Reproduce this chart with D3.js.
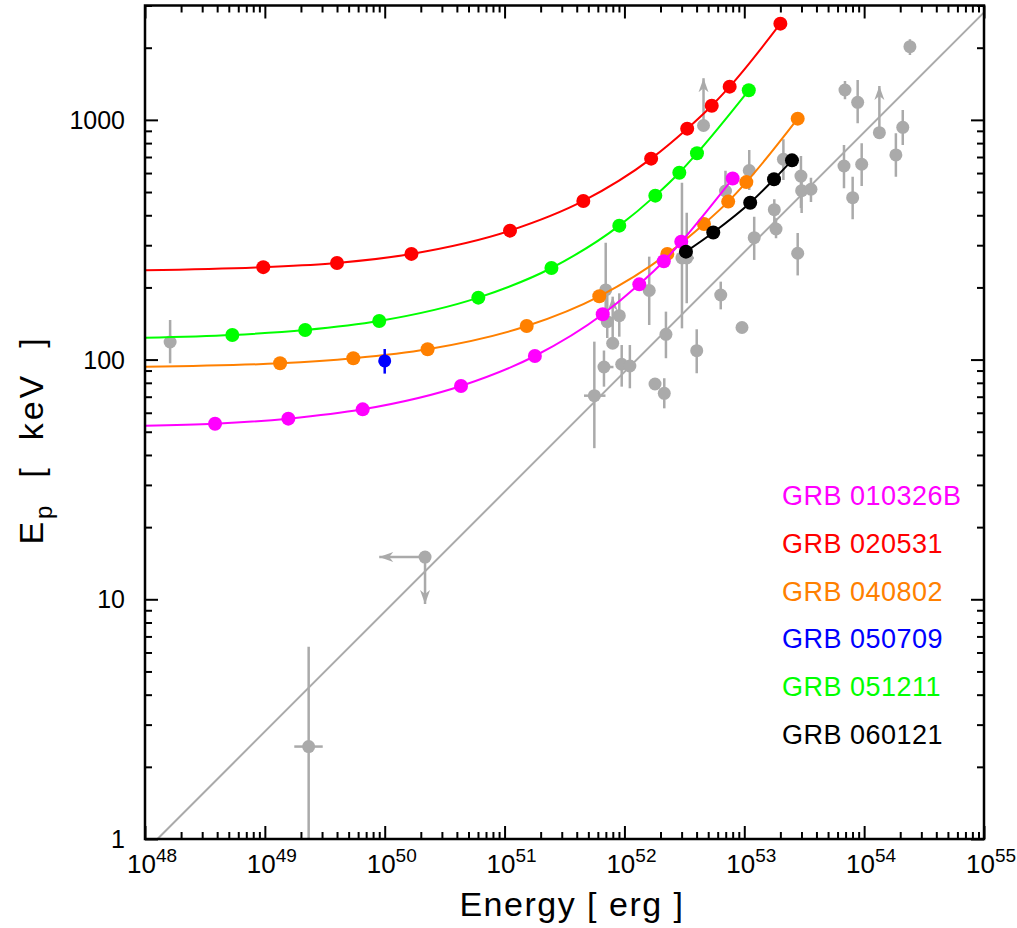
<!DOCTYPE html>
<html>
<head>
<meta charset="utf-8">
<script src="https://cdn.jsdelivr.net/npm/d3@7"></script>
<style>
  body { margin: 0; background: #fff; }
  text { font-family: "Liberation Sans", Arial, sans-serif; }
</style>
</head>
<body>
<svg id="chart" width="1017" height="928"></svg>
<script>
// ---- data ----
const grbNames = ["GRB 010326B", "GRB 020531", "GRB 040802", "GRB 050709", "GRB 051211", "GRB 060121"];
const grbColors = ["#ff00ff", "#ff0000", "#ff8000", "#0000ff", "#00ff00", "#000000"];

// time-resolved tracks (energy in erg, Ep in keV)
const e010326B = [3.84e48, 1.57e49, 6.55e49, 4.33e50, 1.79e51, 6.59e51, 1.33e52, 2.13e52, 2.98e52, 8.0e52];
const ep010326B = [54.0, 56.7, 62.0, 77.6, 103.5, 154.5, 206, 257, 310, 569];
const e020531 = [9.7e48, 4.0e49, 1.67e50, 1.11e51, 4.54e51, 1.67e52, 3.34e52, 5.35e52, 7.55e52, 2.0e53];
const ep020531 = [243, 253, 276, 345, 459, 689, 919, 1146, 1376, 2520];
const e040802 = [1.34e49, 5.47e49, 2.28e50, 1.53e51, 6.17e51, 2.28e52, 4.61e52, 7.34e52, 1.04e53, 2.79e53];
const ep040802 = [96.5, 101.3, 110.4, 138, 183.7, 276, 368, 456, 550, 1012];
const e051211 = [5.35e48, 2.17e49, 9.0e49, 6.04e50, 2.46e51, 9.06e51, 1.81e52, 2.87e52, 4.03e52, 1.09e53];
const ep051211 = [126.7, 132.9, 144.9, 181.3, 241, 362, 483, 602, 726, 1329];
const e060121 = [3.26e52, 5.51e52, 1.12e53, 1.77e53, 2.50e53];
const ep060121 = [282, 339, 451, 565, 678];
// value of each fitted curve at the left edge (1e48 erg), null = curve starts at first point
const fitStartEp = [53.0, 236, 93.4, null, 123.4, null];

// single point, GRB 050709
const e050709 = [1.0e50];
const ep050709 = [98.7];
const ep050709Lo = [87.4];
const ep050709Hi = [110.7];

// comparison sample (grey)
const grayE = [1.62e48, 2.32e49, 5.61e51, 6.75e51, 6.98e51, 7.19e51, 9.06e51, 9.49e51, 1.11e52, 1.61e52,
  1.80e52, 2.15e52, 2.22e52, 3.02e52, 3.31e52, 4.01e52, 6.36e52, 6.97e52, 9.57e52, 1.10e53,
  1.21e53, 1.78e53, 1.84e53, 2.12e53, 2.79e53, 2.97e53, 3.01e53, 3.60e53, 6.92e53, 8.83e53,
  2.10e54, 1.84e54, 6.79e53, 9.54e53, 8.02e53, 2.41e54];
const grayEp = [118.4, 2.43, 70.7, 93.1, 195.2, 143.9, 152.5, 95.6, 94.0, 194.2,
  79.1, 72.3, 127.5, 265.4, 265.4, 108.9, 186, 505, 136.1, 615,
  322.6, 422, 350.6, 685, 277.7, 583, 506.5, 513.4, 1332, 1184,
  931, 714, 642, 652.8, 473.6, 2020];
const grayEpLo = [96.5, 0.5, 42.7, 77.1, 139.4, 123, 124.6, 77.1, 75.9, 139.4,
  null, 62.6, 101.3, 135, 171.8, 87.7, 162, 441.6, null, 510,
  260.4, 364.4, 320.7, 561, 224.4, 429, 409, 454.6, 1219, 968,
  785.6, 579.5, 518.4, 530, 384.8, 1865];
const grayEpHi = [146.3, 6.34, 118.8, 109.1, 307, 184.2, 189, 115, 115, 268.8,
  null, 83.6, 158.5, 547, 410, 133.8, 211.4, 614, null, 749,
  394.6, 466.5, 388.6, 830, 337.5, 707, 606, 574, 1453, 1467,
  1100, 879.5, 786, 798.7, 579.5, 2169];
const grayELo = [null, 1.76e49, 4.60e51, 6.05e51, null, null, null, null, null, null,
  null, null, null, null, 2.85e52, null, null, null, null, null,
  null, null, null, null, null, null, null, null, null, null,
  null, null, null, null, null, null];
const grayEHi = [null, 3.04e49, 6.95e51, 8.1e51, null, null, null, null, null, null,
  null, null, null, null, 3.80e52, null, null, null, null, null,
  null, null, null, null, null, null, null, null, null, null,
  null, null, null, null, null, null];

// lower limits on Ep (arrow up)
const lowLimE = [7.98e51, 4.57e52, 1.34e54];
const lowLimEp = [117, 947.6, 884.6];
const lowLimTip = [183, 1491, 1385];
// upper limit in both E and Ep
const upLimE = [2.17e50];
const upLimEp = [15];
const upLimETip = [9.0e49];
const upLimEpTip = [9.56];

// reference relation Ep ~ E^0.5 (grey line endpoints)
const relationE = [1.27e48, 1e55];
const relationEp = [1, 2808];

const xTickExp = [48, 49, 50, 51, 52, 53, 54, 55];
const yTickLabels = ["1", "10", "100", "1000"];

// ---- drawing ----
const svg = d3.select('#chart');
const x = d3.scaleLog().domain([1e48, 1e55]).range([145, 984]);
const y = d3.scaleLog().domain([1, 3000]).range([839, 5.5]);
const gray = '#aaaaaa';

svg.append('defs').append('clipPath').attr('id', 'plot-clip')
  .append('rect')
  .attr('x', x.range()[0]).attr('y', y.range()[1])
  .attr('width', x.range()[1] - x.range()[0])
  .attr('height', y.range()[0] - y.range()[1]);

let plot = svg.append('g').attr('clip-path', 'url(#plot-clip)');

function arrow(g, x0, y0, x1, y1, color) {
  g.append('line')
    .attr('x1', x0).attr('y1', y0).attr('x2', x1).attr('y2', y1)
    .attr('stroke', color).attr('stroke-width', 2.5);
  let len = Math.hypot(x1 - x0, y1 - y0);
  let ux = (x1 - x0) / len, uy = (y1 - y0) / len;
  let nx = -uy, ny = ux;
  let bx = x1 - ux * 14, by = y1 - uy * 14;
  let mx = x1 - ux * 10, my = y1 - uy * 10;
  g.append('path')
    .attr('d', `M${x1},${y1}L${bx + nx * 5},${by + ny * 5}L${mx},${my}L${bx - nx * 5},${by - ny * 5}Z`)
    .attr('fill', color);
}

// grey relation line
plot.append('line')
  .attr('x1', x(relationE[0])).attr('y1', y(relationEp[0]))
  .attr('x2', x(relationE[1])).attr('y2', y(relationEp[1]))
  .attr('stroke', gray).attr('stroke-width', 2);

// grey sample
let grayData = grayE.map((e, i) => ({
  e: e, ep: grayEp[i], lo: grayEpLo[i], hi: grayEpHi[i], elo: grayELo[i], ehi: grayEHi[i]
}));

let grayG = plot.append('g');
grayG.selectAll('.vbar')
  .data(grayData.filter(d => d.lo !== null))
  .enter().append('line')
  .classed('vbar', true)
  .attr('x1', d => x(d.e)).attr('x2', d => x(d.e))
  .attr('y1', d => y(d.lo)).attr('y2', d => y(d.hi))
  .attr('stroke', gray).attr('stroke-width', 2.5);

grayG.selectAll('.hbar')
  .data(grayData.filter(d => d.elo !== null))
  .enter().append('line')
  .classed('hbar', true)
  .attr('x1', d => x(d.elo)).attr('x2', d => x(d.ehi))
  .attr('y1', d => y(d.ep)).attr('y2', d => y(d.ep))
  .attr('stroke', gray).attr('stroke-width', 2.5);

lowLimE.forEach((e, i) => arrow(grayG, x(e), y(lowLimEp[i]), x(e), y(lowLimTip[i]), gray));
upLimE.forEach((e, i) => {
  arrow(grayG, x(e), y(upLimEp[i]), x(upLimETip[i]), y(upLimEp[i]), gray);
  arrow(grayG, x(e), y(upLimEp[i]), x(e), y(upLimEpTip[i]), gray);
});

grayG.selectAll('.gdot')
  .data(grayData.concat(
    lowLimE.map((e, i) => ({ e: e, ep: lowLimEp[i] })),
    upLimE.map((e, i) => ({ e: e, ep: upLimEp[i] }))))
  .enter().append('circle')
  .classed('gdot', true)
  .attr('cx', d => x(d.e)).attr('cy', d => y(d.ep))
  .attr('r', 6.5)
  .attr('fill', gray);

// coloured tracks
let tracksE = [e010326B, e020531, e040802, e050709, e051211, e060121];
let tracksEp = [ep010326B, ep020531, ep040802, ep050709, ep051211, ep060121];

let line = d3.line()
  .x(d => x(d[0]))
  .y(d => y(d[1]))
  .curve(d3.curveMonotoneX);

// draw order so that overlaps look like the original
[1, 4, 2, 0, 5, 3].forEach(k => {
  let pts = tracksE[k].map((e, i) => [e, tracksEp[k][i]]);
  let g = plot.append('g');
  if (pts.length > 1) {
    let curvePts = fitStartEp[k] !== null ? [[1e48, fitStartEp[k]]].concat(pts) : pts;
    g.append('path')
      .attr('d', line(curvePts))
      .attr('fill', 'none')
      .attr('stroke', grbColors[k])
      .attr('stroke-width', 2);
  } else {
    g.append('line')
      .attr('x1', x(e050709[0])).attr('x2', x(e050709[0]))
      .attr('y1', y(ep050709Lo[0])).attr('y2', y(ep050709Hi[0]))
      .attr('stroke', grbColors[k]).attr('stroke-width', 2.5);
  }
  g.selectAll('circle')
    .data(pts)
    .enter().append('circle')
    .attr('cx', d => x(d[0])).attr('cy', d => y(d[1]))
    .attr('r', pts.length > 1 ? 7 : 6.5)
    .attr('fill', grbColors[k]);
});

// ---- frame and ticks ----
let xTicks = [];
for (let p = 48; p < 55; p++) for (let m = 1; m < 10; m++) xTicks.push(m * Math.pow(10, p));
xTicks.push(1e55);
let yTicks = [];
for (let p = 0; p < 4; p++) for (let m = 1; m < 10; m++) if (m * Math.pow(10, p) <= 3000) yTicks.push(m * Math.pow(10, p));

const isMajor = v => Math.abs(Math.log10(v) - Math.round(Math.log10(v))) < 1e-6;
const tickLen = v => isMajor(v) ? 13 : 7;

function drawAxis(axis, transform, attr, sign) {
  let g = svg.append('g')
    .attr('transform', transform)
    .call(axis.tickFormat('').tickSizeOuter(0));
  g.select('.domain').remove();
  g.selectAll('.tick line')
    .attr(attr, d => sign * tickLen(d))
    .attr('stroke', '#000')
    .attr('stroke-width', 2);
}
drawAxis(d3.axisBottom(x).tickValues(xTicks), `translate(0,${y.range()[0]})`, 'y2', -1);
drawAxis(d3.axisTop(x).tickValues(xTicks), `translate(0,${y.range()[1]})`, 'y2', 1);
drawAxis(d3.axisLeft(y).tickValues(yTicks), `translate(${x.range()[0]},0)`, 'x2', 1);
drawAxis(d3.axisRight(y).tickValues(yTicks), `translate(${x.range()[1]},0)`, 'x2', -1);

svg.append('rect')
  .attr('x', x.range()[0]).attr('y', y.range()[1])
  .attr('width', x.range()[1] - x.range()[0])
  .attr('height', y.range()[0] - y.range()[1])
  .attr('fill', 'none')
  .attr('stroke', '#000')
  .attr('stroke-width', 2.5);

// tick labels
svg.selectAll('.ylab')
  .data(yTickLabels)
  .enter().append('text')
  .classed('ylab', true)
  .attr('x', x.range()[0] - 20)
  .attr('y', d => y(+d))
  .attr('dy', '0.36em')
  .attr('text-anchor', 'end')
  .attr('font-size', 25)
  .text(d => d);

let xlab = svg.selectAll('.xlab')
  .data(xTickExp)
  .enter().append('text')
  .classed('xlab', true)
  .attr('x', d => x(Math.pow(10, d)) + 7)
  .attr('y', 873)
  .attr('text-anchor', 'middle')
  .attr('font-size', 26);
xlab.append('tspan').text('10');
xlab.append('tspan').attr('dy', -11).attr('font-size', 19).text(d => d);

// axis titles
svg.append('text')
  .attr('x', 572).attr('y', 916)
  .attr('text-anchor', 'middle')
  .attr('font-size', 34)
  .attr('letter-spacing', 1.5)
  .style('white-space', 'pre')
  .text('Energy [ erg ]');

let yTitle = svg.append('text')
  .attr('transform', 'translate(43,440) rotate(-90)')
  .attr('text-anchor', 'middle')
  .attr('font-size', 34)
  .attr('letter-spacing', 3)
  .style('white-space', 'pre');
yTitle.append('tspan').text('E');
yTitle.append('tspan').attr('dy', 9).attr('font-size', 24).text('p');
yTitle.append('tspan').attr('dy', -9).text('  [  keV  ]');

// legend
svg.selectAll('.legend')
  .data(grbNames)
  .enter().append('text')
  .classed('legend', true)
  .attr('x', 782)
  .attr('y', (d, i) => 505 + i * 47.8)
  .attr('font-size', 27)
  .attr('letter-spacing', 0.5)
  .attr('fill', (d, i) => grbColors[i])
  .style('white-space', 'pre')
  .text(d => d);
</script>
</body>
</html>
